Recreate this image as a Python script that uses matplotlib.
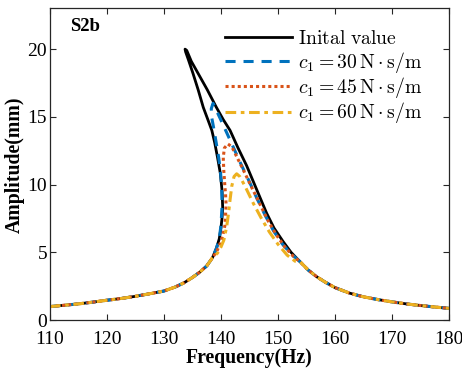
import numpy as np
import matplotlib
matplotlib.use("Agg")
import matplotlib.pyplot as plt

plt.rcParams.update({
    "font.family": "Liberation Serif",
    "mathtext.fontset": "cm",
    "axes.edgecolor": "#262626",
    "axes.linewidth": 0.9,
    "xtick.direction": "in",
    "ytick.direction": "in",
    "xtick.top": True,
    "ytick.right": True,
    "xtick.major.size": 4,
    "ytick.major.size": 4,
    "xtick.color": "#262626",
    "ytick.color": "#262626",
    "xtick.labelcolor": "black",
    "ytick.labelcolor": "black",
    "lines.solid_joinstyle": "round",
})

# shared low / high frequency tails (all curves overlap there)
low_f = [110, 112.5, 115, 117.5, 120, 122.5, 125, 127.5, 130, 132, 133.5,
         135, 136.3, 137.5, 138.5]
low_a = [1.0, 1.1, 1.2, 1.33, 1.47, 1.6, 1.76, 1.95, 2.15, 2.45, 2.75,
         3.15, 3.55, 4.0, 4.6]
high_f = [153.9, 155.3, 156.8, 158.3, 160, 162.5, 165, 167.5, 170, 172.5,
          175, 177.5, 180]
high_a = [4.3, 3.7, 3.2, 2.8, 2.4, 2.0, 1.72, 1.52, 1.35, 1.2,
          1.08, 0.97, 0.87]

# resonance region (up the left branch, down the right)
init_f = [139.2, 139.7, 140.0, 140.2, 140.3, 140.2, 139.9, 139.4, 138.9, 138.4,
          137.7, 136.9, 136.0, 135.1, 134.3, 133.8, 133.7, 134.0, 134.8, 136.0,
          137.6, 139.2, 140.4, 141.6, 143.0, 144.5, 145.8, 146.9, 148.0, 149.3,
          150.9, 152.3]
init_a = [5.3, 6.0, 6.8, 7.6, 8.3, 9.5, 10.8, 12.0, 13.1, 14.0,
          14.8, 15.7, 17.0, 18.2, 19.2, 19.8, 20.0, 19.9, 19.1, 18.2,
          17.0, 15.7, 14.8, 14.0, 12.7, 11.4, 10.1, 9.0, 7.9, 6.8,
          5.8, 5.0]

c30_f = [139.2, 139.7, 140.0, 140.2, 140.1, 139.9, 139.6, 139.2, 138.8, 138.4,
         138.3, 138.6, 139.4, 140.5, 141.8, 143.3, 145.0, 146.4, 147.8, 149.2,
         150.8, 152.3]
c30_a = [5.3, 6.0, 7.0, 8.5, 10.0, 11.0, 12.0, 13.0, 14.0, 14.9,
         15.6, 16.0, 15.3, 14.3, 13.1, 11.7, 10.2, 8.9, 7.7, 6.6,
         5.6, 4.9]

c45_f = [139.3, 139.8, 140.3, 140.7, 140.9, 140.8, 140.7, 140.5, 140.4, 140.6,
         141.2, 141.9, 142.6, 143.9, 145.5, 146.9, 148.3, 149.7, 151.2, 152.7]
c45_a = [5.1, 5.6, 6.2, 7.0, 8.5, 9.3, 9.8, 11.0, 12.0, 12.7,
         13.0, 12.8, 12.2, 11.1, 9.7, 8.5, 7.3, 6.3, 5.4, 4.7]

c60_f = [139.4, 140.0, 140.5, 141.0, 141.3, 141.6, 141.9, 142.3, 142.75, 143.3,
         144.2, 145.7, 147.1, 148.5, 150.0, 151.6, 153.0]
c60_a = [4.95, 5.4, 5.9, 6.9, 7.8, 8.9, 9.9, 10.6, 10.8, 10.6,
         9.9, 8.6, 7.5, 6.5, 5.6, 4.8, 4.35]

labels = [r"$\mathrm{Inital\ value}$",
          r"$c_1=30\,\mathrm{N\cdot s/m}$",
          r"$c_1=45\,\mathrm{N\cdot s/m}$",
          r"$c_1=60\,\mathrm{N\cdot s/m}$"]

BLUE = "#0072BD"
ORANGE = "#D95319"
YELLOW = "#EDB120"

fig = plt.figure(figsize=(4.62, 3.68), dpi=100)
ax = fig.add_axes([0.108, 0.130, 0.864, 0.847])


def curve(mid_f, mid_a):
    return low_f + mid_f + high_f, low_a + mid_a + high_a


x, y = curve(init_f, init_a)
ax.plot(x, y, color="black", lw=2.0, label=labels[0])
x, y = curve(c30_f, c30_a)
ax.plot(x, y, color=BLUE, lw=2.2, ls=(0, (3.3, 2.6)), label=labels[1])
x, y = curve(c45_f, c45_a)
ax.plot(x, y, color=ORANGE, lw=2.2, ls=(0, (1, 1)), dash_capstyle="butt", label=labels[2])
x, y = curve(c60_f, c60_a)
ax.plot(x, y, color=YELLOW, lw=2.2, ls=(0, (3.5, 1.5, 1.2, 1.5)), label=labels[3])

ax.set_xlim(110, 180)
ax.set_ylim(0, 23)
ax.set_xticks(np.arange(110, 181, 10))
ax.set_yticks([0, 5, 10, 15, 20])
ax.tick_params(labelsize=14)
ax.tick_params(axis="x", pad=7.5)
ax.tick_params(axis="y", pad=2)

ax.set_xlabel("Frequency(Hz)", fontsize=14.2, fontweight="bold", labelpad=0)
ax.set_ylabel("Amplitude(mm)", fontsize=14.2, fontweight="bold", labelpad=2)
ax.text(0.05, 0.968, "S2b", transform=ax.transAxes, fontsize=13.5,
        fontweight="bold", va="top", ha="left")

ax.legend(loc="upper left", bbox_to_anchor=(0.4386, 0.93), frameon=False,
          fontsize=14.2, handlelength=3.4, handletextpad=0.3, labelspacing=0.02,
          borderaxespad=0, borderpad=0)

fig.savefig("out.png", dpi=100)
